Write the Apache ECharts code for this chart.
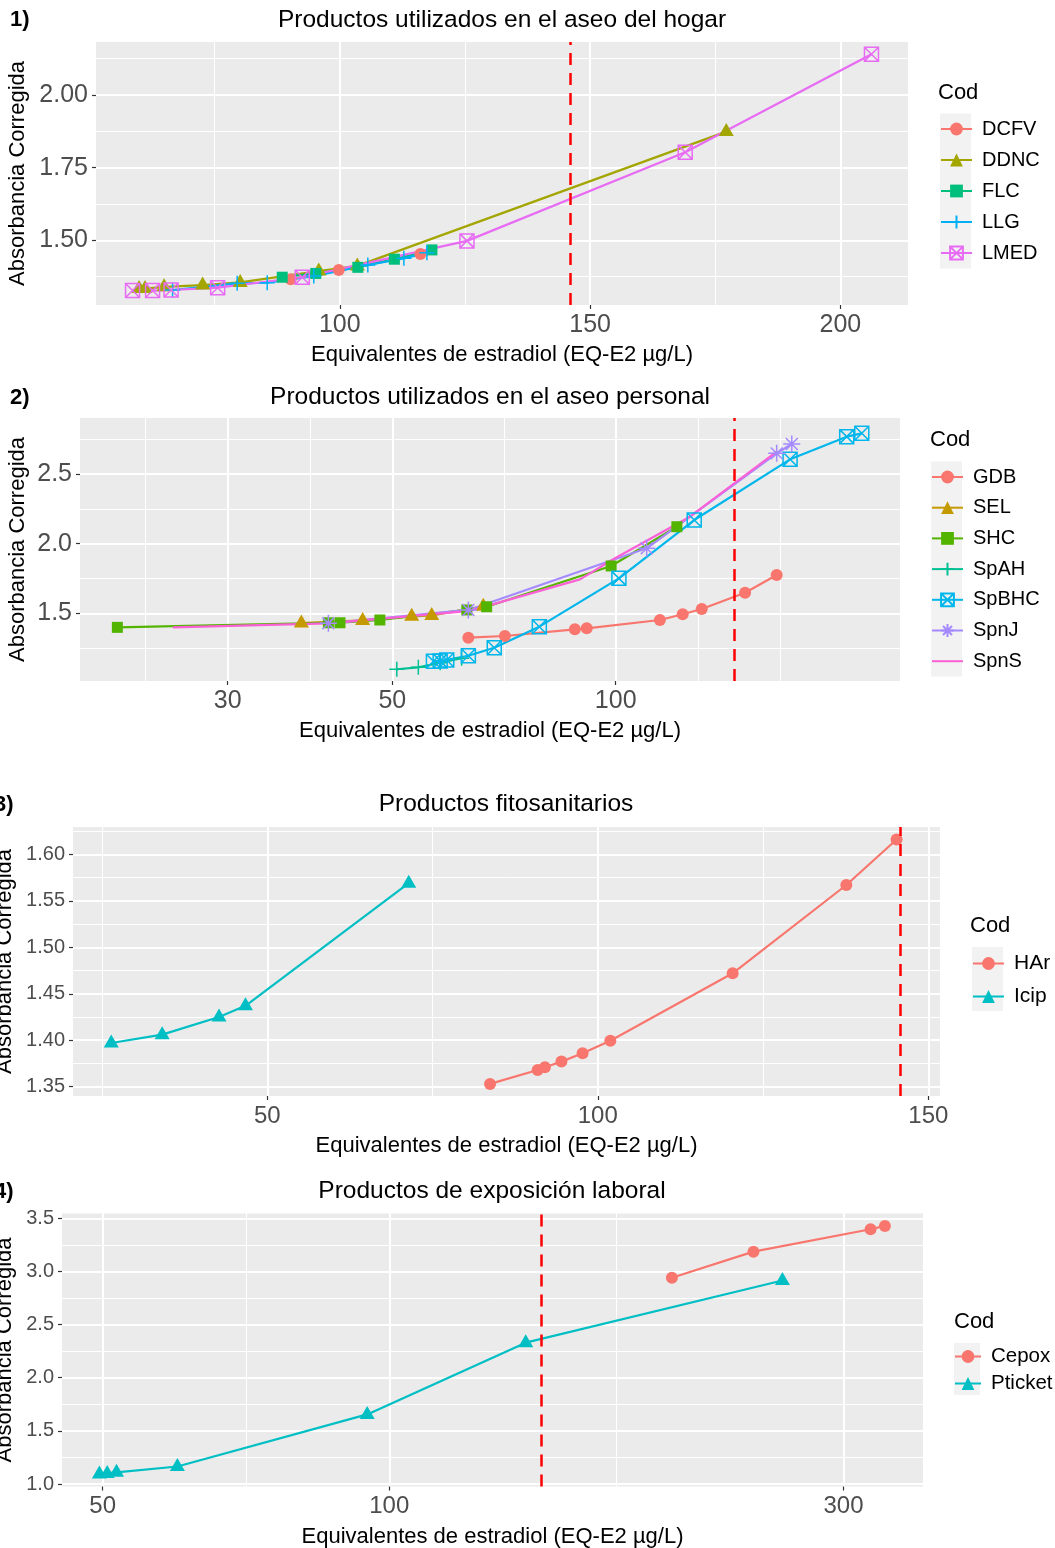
<!DOCTYPE html>
<html>
<head>
<meta charset="utf-8">
<script src="https://cdn.jsdelivr.net/npm/echarts@6.0.0/dist/echarts.min.js"></script>
<style>
  html, body { margin: 0; padding: 0; background: #fff; }
  #chart { width: 1055px; height: 1548px; }
</style>
</head>
<body>
<div id="chart"></div>
<script>
// ---- 1) Productos utilizados en el aseo del hogar (x lineal) ----
const dcfvX = [90.2, 99.8, 116.1];
const dcfvY = [1.366, 1.398, 1.453];
const ddncX = [59.9, 61.1, 64.9, 72.6, 80.1, 95.8, 103.5, 177.2];
const ddncY = [1.334, 1.334, 1.340, 1.346, 1.355, 1.394, 1.412, 1.874];
const flcX = [88.5, 95.2, 103.6, 110.9, 118.4];
const flcY = [1.373, 1.386, 1.407, 1.435, 1.467];
const llgX = [66.6, 79.5, 85.5, 94.8, 105.6, 112.8, 117.4];
const llgY = [1.329, 1.352, 1.354, 1.377, 1.415, 1.438, 1.457];
const lmedX = [58.6, 62.6, 66.3, 75.6, 92.5, 125.4, 169.0, 206.2];
const lmedY = [1.327, 1.327, 1.329, 1.337, 1.373, 1.498, 1.803, 2.140];

// ---- 2) Productos utilizados en el aseo personal (x log10) ----
const gdbX = [63.3, 70.9, 88.1, 91.4, 114.7, 123.1, 130.6, 149.4, 164.8];
const gdbY = [1.325, 1.337, 1.385, 1.392, 1.452, 1.493, 1.531, 1.648, 1.775];
const selX = [37.7, 45.6, 53.1, 56.5, 66.3];
const selY = [1.430, 1.449, 1.478, 1.485, 1.550];
const shcX = [21.3, 41.0, 42.5, 48.1, 63.0, 67.0, 98.6, 120.9];
const shcY = [1.399, 1.432, 1.432, 1.452, 1.524, 1.547, 1.840, 2.122];
const spahX = [50.7, 54.2, 58.0, 62.0];
const spahY = [1.098, 1.112, 1.145, 1.177];
const spbhcX = [56.8, 58.0, 59.2, 63.3, 68.6, 78.9, 101.0, 127.6, 171.8, 204.8, 214.6];
const spbhcY = [1.155, 1.158, 1.165, 1.195, 1.253, 1.404, 1.751, 2.170, 2.606, 2.769, 2.793];
const spnjX = [41.0, 63.3, 110.1, 164.8, 172.7];
const spnjY = [1.428, 1.524, 1.967, 2.649, 2.716];
const spnsX = [25.3, 41.0, 63.6, 89.5, 99.8, 125.9, 164.8];
const spnsY = [1.399, 1.428, 1.517, 1.744, 1.895, 2.194, 2.661];

// ---- 3) Productos fitosanitarios (x lineal) ----
const harX = [83.7, 90.9, 92.0, 94.5, 97.7, 101.9, 120.4, 137.6, 145.2];
const harY = [1.353, 1.368, 1.371, 1.377, 1.386, 1.3995, 1.472, 1.567, 1.616];
const icipX = [26.4, 34.1, 42.7, 46.7, 71.4];
const icipY = [1.397, 1.406, 1.425, 1.437, 1.569];

// ---- 4) Productos de exposición laboral (x log10) ----
const cepoxX = [198.1, 241.3, 320.3, 331.6];
const cepoxY = [2.941, 3.186, 3.397, 3.428];
const pticketX = [49.6, 50.55, 51.7, 59.9, 94.8, 139.1, 258.8];
const pticketY = [1.095, 1.10, 1.11, 1.165, 1.655, 2.33, 2.915];

// ticks / grid
const p1XTicks = [100, 150, 200], p1XMinor = [75, 125, 175];
const p1YTicks = [1.50, 1.75, 2.00], p1YMinor = [1.375, 1.625, 1.875, 2.125];
const p2XTicks = [30, 50, 100], p2XMinor = [23.24, 38.73, 70.71, 129.1, 166.67];
const p2YTicks = [1.5, 2.0, 2.5], p2YMinor = [1.25, 1.75, 2.25, 2.75];
const p3XTicks = [50, 100, 150], p3XMinor = [25, 75, 125];
const p3YTicks = [1.35, 1.40, 1.45, 1.50, 1.55, 1.60], p3YMinor = [1.375, 1.425, 1.475, 1.525, 1.575, 1.625];
const p4XTicks = [50, 100, 300], p4XMinor = [70.71, 173.2];
const p4YTicks = [1.0, 1.5, 2.0, 2.5, 3.0, 3.5], p4YMinor = [1.25, 1.75, 2.25, 2.75, 3.25];
// linea vertical discontinua (EQ-E2)
const refX = [146.1, 145.2, 145.8, 145.7];

const FONT = '"Liberation Sans", Arial, sans-serif';
const XNAME = 'Equivalentes de estradiol (EQ-E2 µg/L)';
const YNAME = 'Absorbancia Corregida';

const lg = v => Math.log10(v);

const panels = [
  { grid: {left: 96, top: 42, width: 812, height: 263}, log: false,
    xr: [51.3, 213.5], yr: [1.2774, 2.1824], xt: p1XTicks, xm: p1XMinor, yt: p1YTicks, ym: p1YMinor,
    yfmt: 2, yGap: 67, xfs: 25, yfs: 25 },
  { grid: {left: 80, top: 418, width: 820, height: 263}, log: true,
    xr: [1.27803, 2.38315], yr: [1.0136, 2.903], xt: p2XTicks, xm: p2XMinor, yt: p2YTicks, ym: p2YMinor,
    yfmt: 1, yGap: 51, xfs: 25, yfs: 25 },
  { grid: {left: 73, top: 827, width: 867, height: 269}, log: false,
    xr: [20.61, 151.77], yr: [1.340, 1.6294], xt: p3XTicks, xm: p3XMinor, yt: p3YTicks, ym: p3YMinor,
    yfmt: 2, yGap: 57, xfs: 24, yfs: 20 },
  { grid: {left: 62, top: 1213.5, width: 861, height: 273}, log: true,
    xr: [1.65622, 2.56063], yr: [0.977, 3.545], xt: p4XTicks, xm: p4XMinor, yt: p4YTicks, ym: p4YMinor,
    yfmt: 1, yGap: 46, xfs: 24, yfs: 20 }
];

const grids = [], xAxes = [], yAxes = [];
panels.forEach((p, i) => {
  grids.push(Object.assign({show: true, backgroundColor: '#EBEBEB', borderWidth: 0,
    containLabel: false, outerBoundsMode: 'none'}, p.grid));
  const tx = p.log ? p.xt.map(lg) : p.xt;
  const mx = p.log ? p.xm.map(lg) : p.xm;
  xAxes.push({
    type: 'value', gridIndex: i, min: p.xr[0], max: p.xr[1], position: 'bottom',
    axisLine: {show: false},
    axisTick: {show: true, length: 4, customValues: tx, lineStyle: {color: '#333', width: 1.2}},
    axisLabel: {customValues: tx, margin: 8, color: '#4D4D4D', fontSize: p.xfs, fontFamily: FONT,
      formatter: v => p.log ? String(Math.round(Math.pow(10, v))) : String(Math.round(v))},
    splitLine: {show: true, lineStyle: {color: '#fff', width: 2}},
    name: XNAME, nameLocation: 'middle', nameGap: 39, nameMoveOverlap: false,
    nameTextStyle: {fontSize: 22, color: '#000', fontFamily: FONT}
  });
  xAxes.push({
    type: 'value', gridIndex: i, min: p.xr[0], max: p.xr[1], position: 'top',
    axisLine: {show: false},
    axisTick: {show: false, customValues: mx},
    axisLabel: {show: false, customValues: mx},
    splitLine: {show: true, lineStyle: {color: '#fff', width: 1}}
  });
  yAxes.push({
    type: 'value', gridIndex: i, min: p.yr[0], max: p.yr[1], position: 'left',
    axisLine: {show: false},
    axisTick: {show: true, length: 4, customValues: p.yt, lineStyle: {color: '#333', width: 1.2}},
    axisLabel: {customValues: p.yt, margin: 8, color: '#4D4D4D', fontSize: p.yfs, fontFamily: FONT,
      formatter: v => v.toFixed(p.yfmt)},
    splitLine: {show: true, lineStyle: {color: '#fff', width: 2}},
    name: YNAME, nameLocation: 'middle', nameGap: p.yGap, nameRotate: 90, nameMoveOverlap: false,
    nameTextStyle: {fontSize: 22, color: '#000', fontFamily: FONT}
  });
  yAxes.push({
    type: 'value', gridIndex: i, min: p.yr[0], max: p.yr[1], position: 'right',
    axisLine: {show: false},
    axisTick: {show: false, customValues: p.ym},
    axisLabel: {show: false, customValues: p.ym},
    splitLine: {show: true, lineStyle: {color: '#fff', width: 1}}
  });
});

const STROKE = c => ({color: 'rgba(0,0,0,0)', borderColor: c, borderWidth: 1.5});
const shapes = {
  circle: c => ({symbol: 'circle', symbolSize: 12, itemStyle: {color: c}}),
  triangle: c => ({symbol: 'triangle', symbolSize: [15, 13], symbolOffset: [0, -2], itemStyle: {color: c}}),
  square: c => ({symbol: 'rect', symbolSize: 11, itemStyle: {color: c}}),
  plus: c => ({symbol: 'path://M6,0L6,12M0,6L12,6', symbolSize: 15, itemStyle: STROKE(c)}),
  squarex: c => ({symbol: 'path://M0,0L12,0L12,12L0,12ZM0,0L12,12M12,0L0,12', symbolSize: 14, itemStyle: STROKE(c)}),
  asterisk: c => ({symbol: 'path://M6,0L6,12M0,6L12,6M1.8,1.8L10.2,10.2M10.2,1.8L1.8,10.2', symbolSize: 17, itemStyle: STROKE(c)}),
  none: c => ({symbol: 'none', showSymbol: false, itemStyle: {color: c}})
};

function mk(name, xs, ys, color, shape, gi) {
  const log = panels[gi].log;
  return Object.assign({
    name: name, type: 'line', xAxisIndex: gi * 2, yAxisIndex: gi * 2,
    data: xs.map((x, k) => [log ? lg(x) : x, ys[k]]),
    color: color, showAllSymbol: true, animation: false,
    lineStyle: {color: color, width: 2.2}
  }, shapes[shape](color));
}

function ref(gi) {
  const v = panels[gi].log ? lg(refX[gi]) : refX[gi];
  return {
    type: 'line', xAxisIndex: gi * 2, yAxisIndex: gi * 2, data: [], animation: false,
    markLine: {silent: true, symbol: ['none', 'none'], label: {show: false}, animation: false,
      lineStyle: {color: '#FF0000', type: [12, 8], width: 2.5}, data: [{xAxis: v}]}
  };
}

const series = [
  mk('DCFV', dcfvX, dcfvY, '#F8766D', 'circle', 0),
  mk('DDNC', ddncX, ddncY, '#A3A500', 'triangle', 0),
  mk('FLC', flcX, flcY, '#00BF7D', 'square', 0),
  mk('LLG', llgX, llgY, '#00B0F6', 'plus', 0),
  mk('LMED', lmedX, lmedY, '#E76BF3', 'squarex', 0),
  ref(0),
  mk('GDB', gdbX, gdbY, '#F8766D', 'circle', 1),
  mk('SEL', selX, selY, '#C49A00', 'triangle', 1),
  mk('SHC', shcX, shcY, '#53B400', 'square', 1),
  mk('SpAH', spahX, spahY, '#00C094', 'plus', 1),
  mk('SpBHC', spbhcX, spbhcY, '#00B6EB', 'squarex', 1),
  mk('SpnJ', spnjX, spnjY, '#A58AFF', 'asterisk', 1),
  mk('SpnS', spnsX, spnsY, '#FB61D7', 'none', 1),
  ref(1),
  mk('HAr', harX, harY, '#F8766D', 'circle', 2),
  mk('Icip', icipX, icipY, '#00BFC4', 'triangle', 2),
  ref(2),
  mk('Cepox', cepoxX, cepoxY, '#F8766D', 'circle', 3),
  mk('Pticket', pticketX, pticketY, '#00BFC4', 'triangle', 3),
  ref(3)
];

function legendAt(names, left, top, pitch, fs, w) {
  return {
    data: names, orient: 'vertical', left: left, top: top, padding: 0,
    itemWidth: w, itemHeight: 16, itemGap: pitch - 20, selectedMode: false,
    textStyle: {fontSize: fs, lineHeight: 20, color: '#000', fontFamily: FONT, padding: [0, 0, 0, 5]}
  };
}

const legends = [
  legendAt(['DCFV', 'DDNC', 'FLC', 'LLG', 'LMED'], 940, 119, 31, 20, 31),
  legendAt(['GDB', 'SEL', 'SHC', 'SpAH', 'SpBHC', 'SpnJ',
    {name: 'SpnS', icon: 'path://M0,0L31,0L31,2L0,2Z'}], 931, 467, 30.7, 20, 31),
  legendAt(['HAr', 'Icip'], 972, 953, 32, 21, 31),
  legendAt(['Cepox', 'Pticket'], 954, 1346, 26, 20.5, 26)
];

function txt(s, x, y, size, opts) {
  return Object.assign({
    type: 'text', x: x, y: y, z: 10,
    style: {text: s, fontSize: size, fontFamily: FONT, fill: '#000',
      align: 'left', verticalAlign: 'middle', textAlign: 'left', textVerticalAlign: 'middle'}
  }, opts || {});
}
function ctxt(s, x, y, size) {
  const t = txt(s, x, y, size);
  t.style.align = 'center'; t.style.textAlign = 'center';
  return t;
}
function bold(t) { t.style.fontWeight = 'bold'; return t; }

const graphics = [
  bold(txt('1)', 10, 20, 22)),
  ctxt('Productos utilizados en el aseo del hogar', 502, 20, 24.5),
  bold(txt('2)', 10, 398, 22)),
  ctxt('Productos utilizados en el aseo personal', 490, 397, 24.5),
  bold(txt('3)', -6, 805, 22)),
  ctxt('Productos fitosanitarios', 506, 804, 24.5),
  bold(txt('4)', -6, 1192, 22)),
  ctxt('Productos de exposición laboral', 492, 1191, 24.5),
  txt('Cod', 938, 93, 22),
  txt('Cod', 930, 440, 22),
  txt('Cod', 970, 926, 22),
  txt('Cod', 954, 1322, 22),
  {type: 'rect', z: 0, shape: {x: 940, y: 113.5, width: 31, height: 155}, style: {fill: '#F2F2F2'}},
  {type: 'rect', z: 0, shape: {x: 931, y: 461.5, width: 31, height: 215}, style: {fill: '#F2F2F2'}},
  {type: 'rect', z: 0, shape: {x: 972, y: 947, width: 31, height: 64}, style: {fill: '#F2F2F2'}},
  {type: 'rect', z: 0, shape: {x: 954, y: 1343, width: 26, height: 52}, style: {fill: '#F2F2F2'}}
];

const chart = echarts.init(document.getElementById('chart'), null, {renderer: 'canvas'});
chart.setOption({
  backgroundColor: '#fff',
  animation: false,
  textStyle: {fontFamily: FONT},
  grid: grids,
  xAxis: xAxes,
  yAxis: yAxes,
  legend: legends,
  series: series,
  graphic: graphics
});
</script>
</body>
</html>
